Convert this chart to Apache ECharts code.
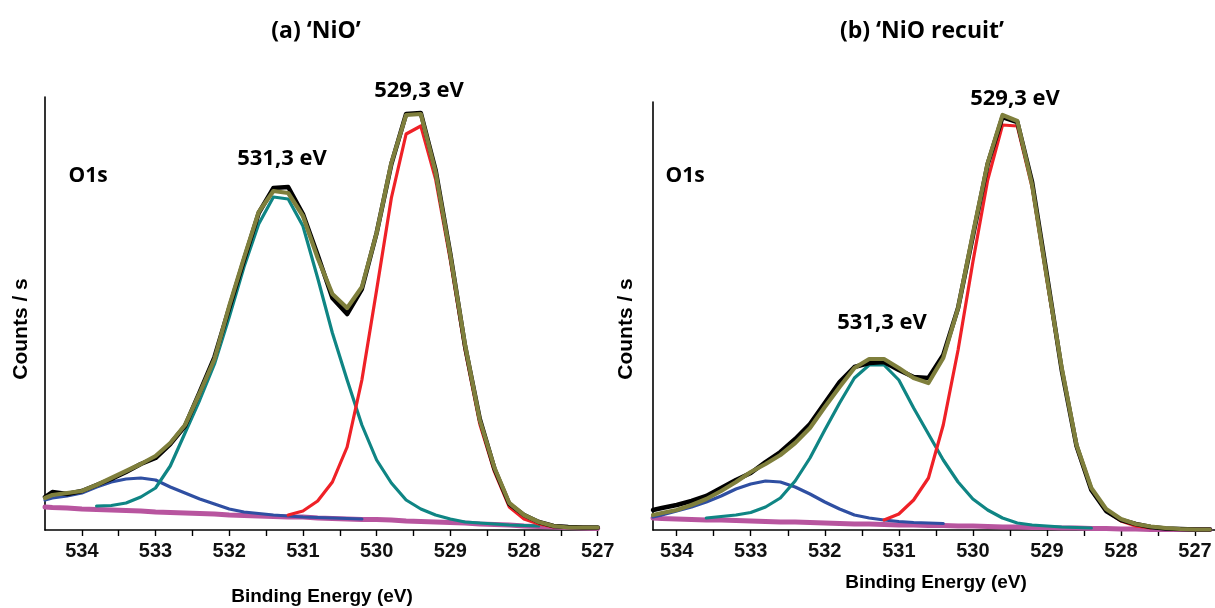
<!DOCTYPE html>
<html>
<head>
<meta charset="utf-8">
<script src="https://cdn.jsdelivr.net/npm/echarts@6/dist/echarts.min.js"></script>
<style>
html,body{margin:0;padding:0;background:#fff;}
#chart{width:1215px;height:608px;}
</style>
</head>
<body>
<div id="chart"></div>
<script>
// ---------- DATA (binding energy in eV, intensity in arbitrary counts) ----------
const titles = ["(a) \u2018NiO\u2019", "(b) \u2018NiO recuit\u2019"];
const peakLabels = ["531,3 eV", "529,3 eV"];
const xLabelValues = [527, 528, 529, 530, 531, 532, 533, 534];
const xTickValues = [527, 527.5, 528, 528.5, 529, 529.5, 530, 530.5, 531, 531.5, 532, 532.5, 533, 533.5, 534];

// panel (a) NiO
const energyA = [534.5, 534.4, 534.2, 534.0, 533.8, 533.6, 533.4, 533.2, 533.0, 532.8, 532.6, 532.4, 532.2, 532.0, 531.8, 531.6, 531.4, 531.2, 531.0, 530.8, 530.6, 530.4, 530.2, 530.0, 529.8, 529.6, 529.4, 529.2, 529.0, 528.8, 528.6, 528.4, 528.2, 528.0, 527.8, 527.6, 527.4, 527.2, 527.0];
const rawA   = [33, 38, 36, 39, 45, 51, 58, 66, 72, 86, 104, 138, 173, 222, 270, 317, 342, 343, 316, 275, 232, 216, 241, 297, 366, 416, 417, 360, 276, 184, 111, 61, 26, 15, 8, 4, 3, 2.5, 2.5];
const fitA   = [32, 35, 37, 39, 45, 52, 59, 66, 74, 87, 105, 137, 171, 224, 272, 318, 339, 337, 314, 272, 236, 222, 243, 297, 367, 415, 416, 358, 275, 185, 110, 62, 27, 15, 8, 4, 2.5, 2.5, 2.5];
const p529A  = [null, null, null, null, null, null, null, null, null, null, null, null, null, null, null, null, null, 15, 19, 29, 48, 83, 150, 240, 332, 396, 404, 351, 270, 180, 106, 58, 23, 11, 6, 3, null, null, null];
const p531A  = [null, null, null, null, 24, 24.5, 27, 33, 42, 64, 97, 130, 166, 213, 263, 306, 333, 331, 304, 252, 197, 150, 105, 70, 47, 30, 21, 15, 11, 8, 7, 6, 5, 4.5, 4, null, null, null, null];
const p533A  = [30, 32, 34, 37, 43, 48, 51, 52, 50, 43, 37, 31, 26, 21, 18, 16.5, 15, 14, 13, 12.5, 12, 11.5, 11, null, null, null, null, null, null, null, null, null, null, null, null, null, null, null, null];
const bgA    = [23, 22.5, 22, 21, 20.5, 20, 19.5, 19, 18, 17.5, 17, 16.5, 16, 15, 14.5, 14, 13.5, 13, 13, 12, 11.5, 11, 10.5, 10.5, 10, 9, 8.5, 8, 7.5, 7, 6, 5.5, 5, 4, 3.5, 3, 2.5, 2, 1.5];

// panel (b) NiO recuit
const energyB = [534.32, 534.2, 534.0, 533.8, 533.6, 533.4, 533.2, 533.0, 532.8, 532.6, 532.4, 532.2, 532.0, 531.8, 531.6, 531.4, 531.2, 531.0, 530.8, 530.6, 530.4, 530.2, 530.0, 529.8, 529.6, 529.4, 529.2, 529.0, 528.8, 528.6, 528.4, 528.2, 528.0, 527.8, 527.6, 527.4, 527.2, 527.0, 526.8];
const rawB   = [20, 22, 25, 29, 34, 42, 50, 57, 68, 78, 91, 106, 127, 148, 163, 167, 168, 160, 153, 152, 175, 222, 294, 366, 413, 408, 348, 255, 160, 84, 40, 19, 10, 6, 3, 1.5, 1, 0.5, 0.5];
const fitB   = [15, 17, 20, 25, 31, 39, 48, 58, 66, 75, 87, 102, 123, 143, 162, 171, 171, 162, 152, 147, 172, 222, 296, 367, 415, 409, 345, 252, 162, 85, 42, 21, 11, 6, 3.5, 2, 1, 0.5, 0.5];
const p529B  = [null, null, null, null, null, null, null, null, null, null, null, null, null, null, null, null, 10, 16, 30, 52, 105, 180, 268, 350, 405, 404, 343, 250, 160, 83, 40, 19, 9, 4, 2, null, null, null, null];
const p531B  = [null, null, null, null, 12, 13.5, 15, 17.5, 23, 32, 49, 72, 100, 127, 152, 165, 165, 150, 122, 96, 70, 48, 31, 20, 12, 7, 5, 4, 3, 2.5, 2, null, null, null, null, null, null, null, null];
const p533B  = [13, 15, 19, 23, 28, 34, 41, 46, 49, 48, 43, 36, 28, 21, 15, 12, 10, 8.5, 7.5, 7, 6.5, null, null, null, null, null, null, null, null, null, null, null, null, null, null, null, null, null, null];
const bgB    = [12, 11.5, 11, 10.5, 10, 10, 9.5, 9, 8.5, 8, 8, 7.5, 7, 6.5, 6, 6, 5.5, 5, 5, 4.5, 4.5, 4, 4, 3.5, 3, 3, 2.5, 2.5, 2, 2, 1.5, 1.5, 1, 1, 0.5, 0.5, 0.5, 0.5, 0.5];

// ---------- CHART ----------
const chart = echarts.init(document.getElementById('chart'), null, {renderer: 'canvas'});

function pairs(E, V) {
  const out = [];
  E.forEach((e, i) => { if (V[i] !== null && V[i] !== undefined) out.push([e, V[i]]); });
  return out;
}

const COLORS = {bg: '#b8559f', blue: '#2f4fa2', teal: '#0f8584', red: '#ef2127', raw: '#000000', fit: '#7f7f3c'};
const WIDTHS = {bg: 5, blue: 3.2, teal: 3.2, red: 3.2, raw: 4.5, fit: 4.2};

function panelSeries(idx, E, bg, blue, teal, red, raw, fit) {
  const mk = (name, V, key, z) => ({
    name: name, type: 'line', xAxisIndex: idx, yAxisIndex: idx,
    data: pairs(E, V), showSymbol: false, symbol: 'none', smooth: false,
    lineStyle: {color: COLORS[key], width: WIDTHS[key], join: 'round', cap: 'round'},
    z: z, silent: true, animation: false
  });
  return [
    mk('Background', bg, 'bg', 2),
    mk('533 eV', blue, 'blue', 3),
    mk('531,3 eV', teal, 'teal', 4),
    mk('529,3 eV', red, 'red', 5),
    mk('Raw', raw, 'raw', 6),
    mk('Fit', fit, 'fit', 7)
  ];
}

const labelFont = {fontFamily: "'Liberation Sans Narrow', 'Arial Narrow', 'Liberation Sans', Arial, sans-serif", fontWeight: 'bold', fontSize: 20, color: '#111'};

function xAxisCfg(idx, min, max) {
  return {
    type: 'value', gridIndex: idx, inverse: true, min: min, max: max,
    axisLine: {show: true, onZero: false, lineStyle: {color: '#000', width: 1.6}},
    axisTick: {show: true, inside: false, length: 6, customValues: xTickValues, lineStyle: {color: '#000', width: 1.4}},
    axisLabel: Object.assign({show: true, margin: 11, customValues: xLabelValues, formatter: v => String(v)}, labelFont),
    splitLine: {show: false}, minorTick: {show: false}
  };
}
function yAxisCfg(idx, max) {
  return {
    type: 'value', gridIndex: idx, min: 0, max: max,
    axisLine: {show: true, lineStyle: {color: '#000', width: 1.6}},
    axisTick: {show: false}, axisLabel: {show: false}, splitLine: {show: false}
  };
}

const calibri = "'Open Sans', 'Noto Sans', sans-serif";
const arialB = "'Liberation Sans', Arial, sans-serif";
function txt(x, y, s, size, family, rot) {
  return {
    type: 'text', x: x, y: y, rotation: rot || 0, silent: true,
    style: {text: s, font: 'bold ' + size + 'px ' + family, fill: '#000', align: 'center', verticalAlign: 'middle'}
  };
}

const option = {
  backgroundColor: '#ffffff',
  animation: false,
  grid: [
    {left: 45, right: 1215 - 597.7, top: 97, bottom: 78, containLabel: false},
    {left: 653, right: 0, top: 102, bottom: 78, containLabel: false}
  ],
  xAxis: [xAxisCfg(0, 527, 534.5), xAxisCfg(1, 526.73, 534.32)],
  yAxis: [yAxisCfg(0, 433), yAxisCfg(1, 428)],
  series: [].concat(
    panelSeries(0, energyA, bgA, p533A, p531A, p529A, rawA, fitA),
    panelSeries(1, energyB, bgB, p533B, p531B, p529B, rawB, fitB)
  ),
  graphic: [
    txt(316, 31, titles[0], 23, calibri),
    txt(922, 31, titles[1], 23, calibri),
    txt(88, 176, 'O1s', 21, calibri),
    txt(685, 176, 'O1s', 21, calibri),
    txt(282, 159, peakLabels[0], 22, calibri),
    txt(419, 91, peakLabels[1], 22, calibri),
    txt(882, 323, peakLabels[0], 22, calibri),
    txt(1015, 99, peakLabels[1], 22, calibri),
    txt(322, 597, 'Binding Energy (eV)', 19, arialB),
    txt(936, 583, 'Binding Energy (eV)', 19, arialB),
    txt(21, 329, 'Counts / s', 21, arialB, Math.PI / 2),
    txt(626, 329, 'Counts / s', 21, arialB, Math.PI / 2)
  ]
};
chart.setOption(option);
</script>
</body>
</html>
